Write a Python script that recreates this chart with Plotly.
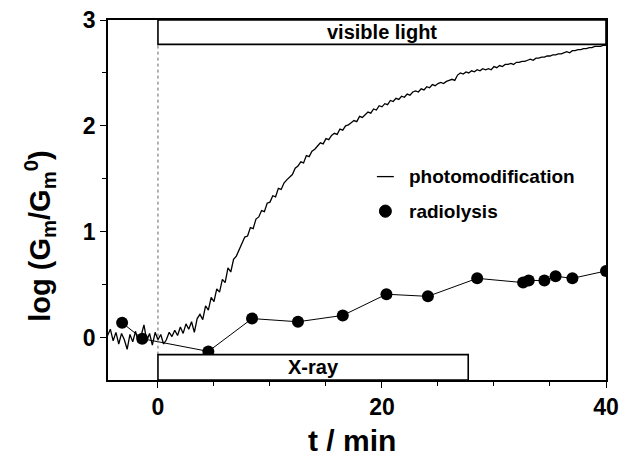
import numpy as np
import plotly.graph_objects as go

# photomodification trace, sampled every 0.25 min from -4.5 min
photo_t0 = -4.5
photo_dt = 0.25
photo_y = [
    0.02, 0.08, -0.03, 0.05,      # -4.5 .. -3.75
    -0.06, 0.04, -0.02, -0.11,    # -3.5 .. -2.75
    0.03, -0.04, 0.06, -0.05,     # -2.5 .. -1.75
    0.02, 0.12, -0.03, 0.04,      # -1.5 .. -0.75
    -0.07, 0.05, -0.02, 0.03,     # -0.5 .. 0.25
    -0.06, -0.02, 0.05, 0.01,     # 0.5 .. 1.25
    0.07, 0.02, 0.10, 0.04,       # 1.5 .. 2.25
    0.13, 0.08, 0.15, 0.05,       # 2.5 .. 3.25
    0.18, 0.22, 0.17, 0.30,       # 3.5 .. 4.25
    0.26, 0.38, 0.34, 0.46,       # 4.5 .. 5.25
    0.43, 0.55, 0.52, 0.66,       # 5.5 .. 6.25
    0.62, 0.74, 0.77, 0.83,       # 6.5 .. 7.25
    0.88, 0.95, 0.96, 1.04,       # 7.5 .. 8.25
    1.03, 1.12, 1.14, 1.20,       # 8.5 .. 9.25
    1.19, 1.27, 1.28, 1.34,       # 9.5 .. 10.25
    1.33, 1.41, 1.40, 1.46,       # 10.5 .. 11.25
    1.49, 1.52, 1.54, 1.60,       # 11.5 .. 12.25
    1.62, 1.66, 1.65, 1.72,       # 12.5 .. 13.25
    1.71, 1.76, 1.78, 1.81,       # 13.5 .. 14.25
    1.84, 1.83, 1.88, 1.87,       # 14.5 .. 15.25
    1.91, 1.93, 1.92, 1.97,       # 15.5 .. 16.25
    1.96, 2.00, 2.01, 2.03,       # 16.5 .. 17.25
    2.05, 2.04, 2.09, 2.08,       # 17.5 .. 18.25
    2.11, 2.13, 2.12, 2.16,       # 18.5 .. 19.25
    2.15, 2.19, 2.18, 2.21,       # 19.5 .. 20.25
    2.20, 2.24, 2.23, 2.26,       # 20.5 .. 21.25
    2.25, 2.28, 2.27, 2.30,       # 21.5 .. 22.25
    2.29, 2.32, 2.33, 2.32,       # 22.5 .. 23.25
    2.35, 2.34, 2.37, 2.36,       # 23.5 .. 24.25
    2.39, 2.38, 2.40, 2.41,       # 24.5 .. 25.25
    2.40, 2.42, 2.43, 2.44,       # 25.5 .. 26.25
    2.43, 2.48, 2.50, 2.49,       # 26.5 .. 27.25
    2.51, 2.50, 2.52, 2.51,       # 27.5 .. 28.25
    2.53, 2.52, 2.54, 2.53,       # 28.5 .. 29.25
    2.54, 2.53, 2.56, 2.55,       # 29.5 .. 30.25
    2.57, 2.56, 2.58, 2.58,       # 30.5 .. 31.25
    2.59, 2.58, 2.60, 2.60,       # 31.5 .. 32.25
    2.61, 2.61, 2.62, 2.63,       # 32.5 .. 33.25
    2.62, 2.64, 2.64, 2.65,       # 33.5 .. 34.25
    2.65, 2.66, 2.66, 2.67,       # 34.5 .. 35.25
    2.67, 2.68, 2.68, 2.69,       # 35.5 .. 36.25
    2.70, 2.69, 2.71, 2.71,       # 36.5 .. 37.25
    2.72, 2.72, 2.73, 2.73,       # 37.5 .. 38.25
    2.74, 2.74, 2.75, 2.75,       # 38.5 .. 39.25
    2.75, 2.76, 2.76,             # 39.5 .. 40.0
]
photo_t = [round(photo_t0 + i * photo_dt, 2) for i in range(len(photo_y))]

# radiolysis points
radio_t = [-3.2, -1.4, 4.5, 8.4, 12.5, 16.5, 20.4, 24.1, 28.5, 32.6, 33.1, 34.5, 35.5, 37.0, 40.0]
radio_y = [0.14, -0.01, -0.13, 0.18, 0.15, 0.21, 0.41, 0.39, 0.56, 0.52, 0.54, 0.54, 0.58, 0.56, 0.63]

# irradiation periods
visible_period = [0, 40]
visible_band = [2.77, 3.0]
xray_period = [0, 27.7]
xray_band = [-0.4, -0.16]

x_range = [-4.46, 40]
y_range = [-0.4, 3.0]
x_ticks = [0, 20, 40]
y_ticks = [0, 1, 2, 3]

legend_labels = ["photomodification", "radiolysis"]

FONT = "Liberation Sans, Arial, sans-serif"
BLACK = "black"

fig = go.Figure()

fig.add_trace(go.Scatter(
    x=photo_t, y=photo_y, mode="lines", name=legend_labels[0], showlegend=False,
    line=dict(color=BLACK, width=1.3),
))
fig.add_trace(go.Scatter(
    x=radio_t, y=radio_y, mode="lines+markers", name=legend_labels[1], showlegend=False,
    line=dict(color=BLACK, width=1),
    marker=dict(color=BLACK, size=12),
))

# dotted line at t = 0
fig.add_shape(type="line", x0=0, x1=0, y0=xray_band[1], y1=visible_band[0],
              xref="x", yref="y", line=dict(color="#666666", width=1, dash="dot"))

# boxes
fig.add_shape(type="rect", x0=visible_period[0], x1=visible_period[1],
              y0=visible_band[0], y1=visible_band[1], xref="x", yref="y",
              line=dict(color=BLACK, width=1.6), fillcolor="white", layer="above")
fig.add_shape(type="rect", x0=xray_period[0], x1=xray_period[1],
              y0=xray_band[0], y1=xray_band[1], xref="x", yref="y",
              line=dict(color=BLACK, width=1.6), fillcolor="white", layer="above")

fig.add_annotation(x=sum(visible_period) / 2, y=sum(visible_band) / 2, xref="x", yref="y",
                   text="<b>visible light</b>", showarrow=False,
                   xanchor="center", yanchor="middle",
                   font=dict(family=FONT, size=20, color=BLACK))
fig.add_annotation(x=sum(xray_period) / 2, y=sum(xray_band) / 2, xref="x", yref="y",
                   text="<b>X-ray</b>", showarrow=False,
                   xanchor="center", yanchor="middle",
                   font=dict(family=FONT, size=20, color=BLACK))

# legend (keys drawn in paper coordinates)
fig.add_shape(type="line", xref="paper", yref="paper", x0=0.54, x1=0.574, y0=0.565, y1=0.565,
              line=dict(color=BLACK, width=1.3))
fig.add_shape(type="circle", xref="paper", yref="paper", x0=0.545, x1=0.569, y0=0.452, y1=0.486,
              line=dict(color=BLACK, width=1), fillcolor=BLACK)
fig.add_annotation(x=0.6, y=0.565, xref="paper", yref="paper", xanchor="left", yanchor="middle",
                   text="<b>%s</b>" % legend_labels[0], showarrow=False,
                   font=dict(family=FONT, size=19, color=BLACK))
fig.add_annotation(x=0.6, y=0.469, xref="paper", yref="paper", xanchor="left", yanchor="middle",
                   text="<b>%s</b>" % legend_labels[1], showarrow=False,
                   font=dict(family=FONT, size=19, color=BLACK))

# axis titles
fig.add_annotation(x=-0.137, y=0.40, xref="paper", yref="paper", textangle=-90,
                   xanchor="center", yanchor="middle",
                   text="<b>log (G<sub>m</sub>/G<sub>m</sub><sup>0</sup>)</b>", showarrow=False,
                   font=dict(family=FONT, size=29, color=BLACK))
fig.add_annotation(x=0.49, y=-0.168, xref="paper", yref="paper",
                   xanchor="center", yanchor="middle",
                   text="<b>t / min</b>", showarrow=False,
                   font=dict(family=FONT, size=30, color=BLACK))

tick_common = dict(ticks="outside", ticklen=6, tickwidth=1.4, tickcolor=BLACK,
                   showgrid=False, zeroline=False, automargin=False)
tickfont = dict(family=FONT, size=23, color=BLACK, weight="bold")

fig.update_layout(
    width=624, height=462,
    margin=dict(l=108, r=18, t=20, b=82),
    paper_bgcolor="white", plot_bgcolor="white",
    showlegend=False,
    xaxis=dict(range=x_range, tickvals=x_ticks, showline=True, linecolor=BLACK, linewidth=1.6,
               mirror=True, tickfont=tickfont,
               minor=dict(dtick=5, ticks="outside", ticklen=4, tickwidth=1.2, tickcolor=BLACK),
               **tick_common),
    yaxis=dict(range=y_range, tickvals=y_ticks, showline=True, linecolor=BLACK, linewidth=1.6,
               mirror=True, tickfont=tickfont,
               minor=dict(dtick=0.5, ticks="outside", ticklen=4, tickwidth=1.2, tickcolor=BLACK),
               **tick_common),
    xaxis2=dict(range=x_range, tickvals=x_ticks, overlaying="x", side="top", anchor="y",
                showticklabels=False, showline=False,
                minor=dict(dtick=5, ticks="outside", ticklen=4, tickwidth=1.2, tickcolor=BLACK),
                **tick_common),
    yaxis2=dict(range=y_range, tickvals=y_ticks, overlaying="y", side="right", anchor="x",
                showticklabels=False, showline=False,
                minor=dict(dtick=0.5, ticks="outside", ticklen=4, tickwidth=1.2, tickcolor=BLACK),
                **tick_common),
)

fig.write_html("out.html")
